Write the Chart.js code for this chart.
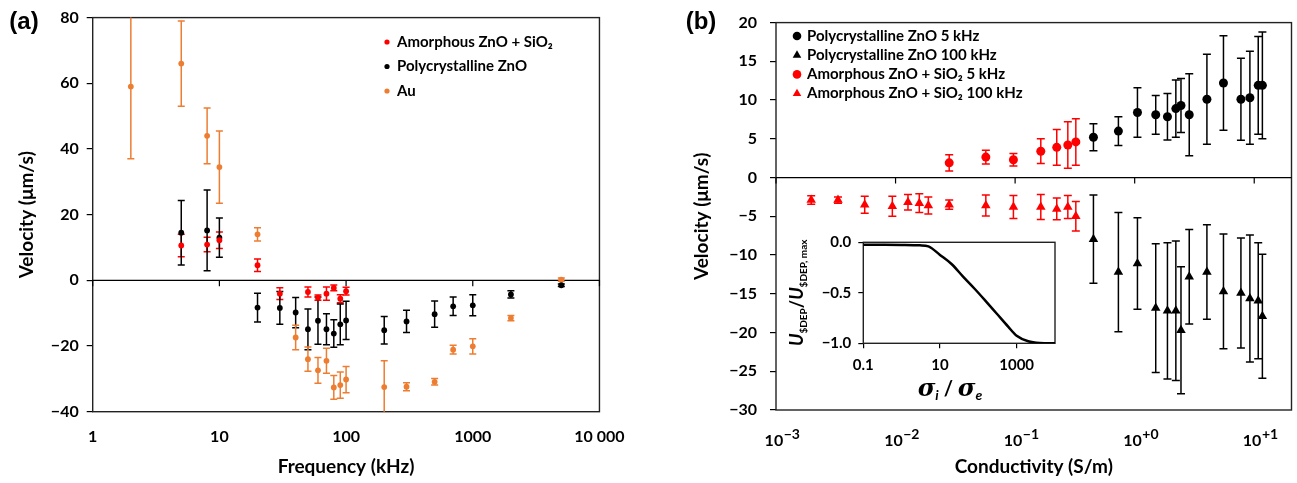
<!DOCTYPE html>
<html>
<head>
<meta charset="utf-8">
<script src="https://cdn.jsdelivr.net/npm/chart.js@4.4.0/dist/chart.umd.min.js"></script>
<style>
    body { margin: 0; background: #fff; }
    #wrap { position: relative; width: 1297px; height: 483px; }
    canvas { position: absolute; }
</style>
</head>
<body>
<div id="wrap">
    <canvas id="chart-a" width="640" height="483" style="left:0;top:0"></canvas>
    <canvas id="chart-b" width="657" height="483" style="left:640px;top:0"></canvas>
    <canvas id="chart-inset" width="290" height="180" style="left:780px;top:222px"></canvas>
</div>
<script>
// ---- panel (a): velocity vs frequency ----
const freqTicks = [1, 10, 100, 1000, 10000];
const freqTickLabels = ['1', '10', '100', '1000', '10 000'];

const freqAm = [5, 8, 10, 20, 30, 50, 60, 70, 80, 90, 100];
const velAm  = [10.6, 10.9, 12.2, 4.6, -4.05, -3.55, -5.3, -4.05, -2.3, -5.6, -3.3];
const errAm  = [3.4, 2.2, 2.5, 1.9, 1.8, 1.5, 0.8, 2.0, 0.9, 1.2, 1.2];

const freqPoly = [5, 8, 10, 20, 30, 40, 50, 60, 70, 80, 90, 100, 200, 300, 500, 700, 1000, 2000, 5000];
const velPoly  = [14.5, 15.2, 13, -8.3, -8.4, -9.8, -14.9, -12.3, -14.9, -16.2, -13.4, -12.2, -15.2, -12.5, -10.3, -7.9, -7.6, -4.3, -1.5];
const errPoly  = [9.8, 12.3, 6, 4.4, 5, 4.6, 6.2, 7.2, 4.7, 4.2, 6.2, 5.8, 4.2, 3.4, 4, 2.8, 3.2, 1.1, 0.4];

const freqAu = [2, 5, 8, 10, 20, 40, 50, 60, 70, 80, 90, 100, 200, 300, 500, 700, 1000, 2000, 5000];
const velAu  = [59, 66, 44, 34.5, 14, -17.4, -24, -27.4, -24.5, -32.6, -31.9, -30.2, -32.5, -32.4, -30.9, -21.1, -20.1, -11.5, 0.2];
const errAu  = [22, 13, 8.5, 11, 2, 3.7, 3.7, 3.9, 3.8, 3.6, 4, 4, 8, 1.2, 1, 1.3, 2.3, 0.8, 0.5];

// ---- panel (b): velocity vs conductivity ----
const condTicks = [0.001, 0.01, 0.1, 1, 10];
const condTickExps = ['\u22123', '\u22122', '\u22121', '+0', '+1'];

const condPoly = [0.452, 0.731, 1.055, 1.50, 1.88, 2.21, 2.44, 2.86, 4.02, 5.53, 7.74, 9.20, 10.8, 11.7];
const polyV5   = [5.2, 6.0, 8.4, 8.1, 7.85, 8.9, 9.3, 8.1, 10.1, 12.2, 10.1, 10.3, 11.9, 11.9];
const polyE5   = [1.75, 1.85, 3.2, 2.5, 3.0, 3.7, 3.5, 5.3, 5.8, 6.1, 5.3, 6.0, 6.3, 6.9];
const polyV100 = [-7.95, -12.2, -11.1, -16.85, -17.2, -17.2, -19.7, -12.8, -12.2, -14.7, -14.9, -15.6, -15.9, -17.9];
const polyE100 = [5.7, 7.7, 5.9, 8.3, 8.8, 9.0, 8.2, 6.1, 6.1, 7.4, 7.1, 8.2, 7.5, 8.0];

const condAm5 = [0.0281, 0.0569, 0.0968, 0.164, 0.223, 0.276, 0.322];
const amV5    = [1.9, 2.64, 2.3, 3.4, 3.9, 4.2, 4.6];
const amE5    = [1.05, 0.9, 0.8, 1.6, 2.3, 3.0, 3.0];

const condAm100 = [0.00197, 0.0033, 0.00552, 0.0094, 0.0127, 0.0158, 0.0188, 0.0281, 0.0569, 0.0968, 0.164, 0.223, 0.276, 0.322];
const amV100    = [-2.9, -2.9, -3.5, -3.7, -3.2, -3.3, -3.6, -3.5, -3.6, -3.8, -3.8, -4.05, -3.8, -5.0];
const amE100    = [0.55, 0.4, 1.1, 1.3, 1.0, 1.2, 1.1, 0.6, 1.35, 1.5, 1.6, 1.4, 1.5, 1.9];

// ---- inset: normalised sDEP velocity vs conductivity ratio ----
const ratioTicks = [0.1, 10, 1000];
const ratioX = [0.1, 0.3, 1, 3, 5, 10, 20, 40, 80, 150, 300, 600, 1000, 2000, 4000, 10000];
const ratioY = [-0.025, -0.025, -0.026, -0.03, -0.04, -0.125, -0.215, -0.34, -0.46, -0.575, -0.705, -0.835, -0.925, -0.98, -0.997, -1.0];

const RED = '#ff0000';
const BLACK = '#000000';
const ORANGE = '#ed7d31';
const FONT = 'Lato, "Open Sans", sans-serif';

Chart.defaults.font.family = FONT;
Chart.defaults.font.weight = 'bold';
Chart.defaults.color = '#000';

const minus = v => v < 0 ? '\u2212' + Math.abs(v) : String(v);
const pts = (xs, ys) => xs.map((x, i) => ({x: x, y: ys[i]}));

// error bars drawn through the chart scales
const errorBars = {
    id: 'errorBars',
    beforeDatasetsDraw(chart, args, opts) {
        const {ctx, chartArea: a, scales: {x, y}} = chart;
        ctx.save();
        ctx.beginPath();
        ctx.rect(a.left, a.top, a.width, a.height);
        ctx.clip();
        chart.data.datasets.forEach(ds => {
            if (!ds.errors) return;
            ctx.strokeStyle = ds.borderColor;
            ctx.lineWidth = opts.width;
            ds.data.forEach((p, j) => {
                let e = ds.errors[j];
                let px = x.getPixelForValue(p.x);
                let top = y.getPixelForValue(p.y + e);
                let bot = y.getPixelForValue(p.y - e);
                ctx.beginPath();
                ctx.moveTo(px, top); ctx.lineTo(px, bot);
                ctx.moveTo(px - opts.cap, top); ctx.lineTo(px + opts.cap, top);
                ctx.moveTo(px - opts.cap, bot); ctx.lineTo(px + opts.cap, bot);
                ctx.stroke();
            });
        });
        ctx.restore();
    }
};

// plot box, zero axis line with its ticks, panel letter
const frame = {
    id: 'frame',
    beforeDatasetsDraw(chart, args, opts) {
        const {ctx, chartArea: a, scales: {x, y}} = chart;
        ctx.save();
        ctx.strokeStyle = '#222';
        ctx.lineWidth = 1.4;
        ctx.strokeRect(a.left, a.top, a.width, a.height);
        if (opts.zeroLine) {
            let y0 = y.getPixelForValue(0);
            ctx.strokeStyle = '#000';
            ctx.lineWidth = 1.2;
            ctx.beginPath();
            ctx.moveTo(a.left, y0);
            ctx.lineTo(a.right, y0);
            x.ticks.forEach(t => {
                let px = x.getPixelForValue(t.value);
                ctx.moveTo(px, y0);
                ctx.lineTo(px, y0 + 6);
            });
            ctx.stroke();
        }
        if (opts.letter) {
            ctx.fillStyle = '#000';
            ctx.font = 'bold 24px "Liberation Sans", Arial, sans-serif';
            ctx.textAlign = 'center';
            ctx.textBaseline = 'middle';
            ctx.fillText(opts.letter, opts.letterX, opts.letterY);
        }
        ctx.restore();
    }
};

// "10" with a superscript exponent under each x tick
const powerLabels = {
    id: 'powerLabels',
    afterDraw(chart, args, opts) {
        if (!opts.exps) return;
        const {ctx, scales: {x}} = chart;
        ctx.save();
        ctx.fillStyle = '#000';
        ctx.textBaseline = 'middle';
        ctx.textAlign = 'left';
        const baseFont = 'bold 16px ' + FONT;
        const expFont = 'bold 14px ' + FONT;
        x.ticks.forEach((t, i) => {
            let exp = opts.exps[i];
            ctx.font = baseFont;
            let wb = ctx.measureText('10').width;
            ctx.font = expFont;
            let we = ctx.measureText(exp).width;
            let left = x.getPixelForValue(t.value) + opts.shift - (wb + we) / 2;
            ctx.font = baseFont;
            ctx.fillText('10', left, opts.y + 3);
            ctx.font = expFont;
            ctx.fillText(exp, left + wb + 0.5, opts.y - 4);
        });
        ctx.restore();
    }
};

// legend drawn inside the plot area
const innerLegend = {
    id: 'innerLegend',
    afterDraw(chart, args, opts) {
        if (!opts.display) return;
        const ctx = chart.ctx;
        ctx.save();
        ctx.font = 'bold 15px ' + FONT;
        ctx.textBaseline = 'middle';
        ctx.textAlign = 'left';
        chart.data.datasets.forEach((ds, i) => {
            let cy = opts.y + i * opts.spacing;
            let r = opts.radius;
            ctx.fillStyle = ds.backgroundColor;
            ctx.beginPath();
            if (ds.pointStyle === 'triangle') {
                r = opts.radius * 1.15;
                ctx.moveTo(opts.x, cy - r);
                ctx.lineTo(opts.x + r * 0.866, cy + r / 2);
                ctx.lineTo(opts.x - r * 0.866, cy + r / 2);
                ctx.closePath();
            } else {
                ctx.arc(opts.x, cy, r, 0, Math.PI * 2);
            }
            ctx.fill();
            ctx.fillStyle = '#000';
            ctx.fillText(ds.label, opts.x + opts.gap, cy);
        });
        ctx.restore();
    }
};

function makeDataset(label, xs, ys, errs, color, style, radius) {
    return {
        label: label,
        data: pts(xs, ys),
        errors: errs,
        backgroundColor: color,
        borderColor: color,
        pointStyle: style,
        pointRadius: radius,
        pointBorderWidth: 0,
        pointHoverRadius: radius,
        showLine: false
    };
}

function velocityAxis(min, max, step, width, padding, titlePad) {
    return {
        type: 'linear',
        min: min,
        max: max,
        afterFit: scale => { scale.width = width; },
        afterBuildTicks: scale => {
            let t = [];
            for (let v = min; v <= max + 1e-9; v += step) t.push({value: v});
            scale.ticks = t;
        },
        ticks: {
            font: {size: 16, weight: 'bold'},
            padding: padding,
            callback: v => minus(v)
        },
        grid: {display: true, drawOnChartArea: false, drawTicks: true, tickLength: 6, color: '#000', lineWidth: 1.2},
        border: {display: false},
        title: {
            display: true,
            text: 'Velocity (\u03BCm/s)',
            font: {size: 19, weight: 'bold'},
            padding: {top: titlePad, bottom: 0}
        }
    };
}

function logAxis(min, max, tickValues, tickLabels, height, padding, title) {
    return {
        type: 'logarithmic',
        min: min,
        max: max,
        afterFit: scale => { scale.height = height; },
        afterBuildTicks: scale => { scale.ticks = tickValues.map(v => ({value: v})); },
        ticks: {
            display: tickLabels !== null,
            font: {size: 16, weight: 'bold'},
            padding: padding,
            autoSkip: false,
            maxRotation: 0,
            callback: (v, i) => tickLabels ? tickLabels[i] : ''
        },
        grid: {display: false, drawTicks: false},
        border: {display: false},
        title: {
            display: true,
            text: title,
            font: {size: 19, weight: 'bold'},
            padding: {top: 0, bottom: 5}
        }
    };
}

// Panel (a)
new Chart(document.getElementById('chart-a'), {
    type: 'scatter',
    data: {
        datasets: [
            makeDataset('Amorphous ZnO + SiO\u2082', freqAm, velAm, errAm, RED, 'circle', 2.9),
            makeDataset('Polycrystalline ZnO', freqPoly, velPoly, errPoly, BLACK, 'circle', 2.9),
            makeDataset('Au', freqAu, velAu, errAu, ORANGE, 'circle', 2.9)
        ]
    },
    options: {
        responsive: false,
        animation: false,
        layout: {padding: {left: 0, right: 33, top: 17, bottom: 0}},
        scales: {
            x: logAxis(1, 10000, freqTicks, freqTickLabels, 71.3, 15.4, 'Frequency (kHz)'),
            y: velocityAxis(-40, 80, 20, 92.7, 8, 15.6)
        },
        plugins: {
            legend: {display: false},
            tooltip: {enabled: false},
            errorBars: {width: 1.5, cap: 3.5},
            frame: {zeroLine: true, letter: '(a)', letterX: 24, letterY: 22},
            innerLegend: {display: true, x: 387, y: 42, spacing: 24.5, gap: 10, radius: 2.6}
        }
    },
    plugins: [frame, errorBars, innerLegend]
});

// Panel (b)
new Chart(document.getElementById('chart-b'), {
    type: 'scatter',
    data: {
        datasets: [
            makeDataset('Polycrystalline ZnO 5 kHz', condPoly, polyV5, polyE5, BLACK, 'circle', 4.5),
            makeDataset('Polycrystalline ZnO 100 kHz', condPoly, polyV100, polyE100, BLACK, 'triangle', 5.5),
            makeDataset('Amorphous ZnO + SiO\u2082 5 kHz', condAm5, amV5, amE5, RED, 'circle', 4.5),
            makeDataset('Amorphous ZnO + SiO\u2082 100 kHz', condAm100, amV100, amE100, RED, 'triangle', 5.5)
        ]
    },
    options: {
        responsive: false,
        animation: false,
        layout: {padding: {left: 0, right: 4.7, top: 17, bottom: 0}},
        scales: {
            x: logAxis(0.001, 20.5, condTicks, null, 73, 17, 'Conductivity (S/m)'),
            y: velocityAxis(-30, 20, 5, 136, 13, 50.6)
        },
        plugins: {
            legend: {display: false},
            tooltip: {enabled: false},
            errorBars: {width: 1.5, cap: 4},
            frame: {zeroLine: true, letter: '(b)', letterX: 61, letterY: 22},
            powerLabels: {exps: condTickExps, y: 438, shift: 6},
            innerLegend: {display: true, x: 157, y: 36, spacing: 19.2, gap: 10, radius: 4.3}
        }
    },
    plugins: [frame, errorBars, powerLabels, innerLegend]
});

// Inset titles with subscripts
const insetTitles = {
    id: 'insetTitles',
    afterDraw(chart) {
        const ctx = chart.ctx;
        const drawRuns = (runs) => {
            let w = 0;
            runs.forEach(r => { ctx.font = r.font; r.w = ctx.measureText(r.t).width; w += r.w; });
            let x = -w / 2;
            runs.forEach(r => {
                ctx.font = r.font;
                ctx.fillText(r.t, x, r.dy);
                x += r.w;
            });
        };
        const big = 'italic bold 18px ' + FONT;
        const small = 'bold 10px ' + FONT;
        const a = chart.chartArea;
        ctx.save();
        ctx.fillStyle = '#000';
        ctx.textBaseline = 'alphabetic';
        ctx.textAlign = 'left';
        // y title, rotated
        ctx.translate(23, (a.top + a.bottom) / 2);
        ctx.rotate(-Math.PI / 2);
        drawRuns([
            {t: 'U', font: big, dy: 0},
            {t: '$DEP', font: small, dy: 4},
            {t: '/', font: 'bold 18px ' + FONT, dy: 0},
            {t: 'U', font: big, dy: 0},
            {t: '$DEP, max', font: small, dy: 4}
        ]);
        ctx.restore();
        ctx.save();
        ctx.fillStyle = '#000';
        ctx.textBaseline = 'alphabetic';
        ctx.translate(170, 174);
        const sig = 'italic bold 24px "DejaVu Serif", serif';
        const sub = 'italic bold 14px ' + FONT;
        drawRuns([
            {t: '\u03C3', font: sig, dy: 0},
            {t: 'i', font: sub, dy: 4},
            {t: ' / ', font: 'bold 20px ' + FONT, dy: 0},
            {t: '\u03C3', font: sig, dy: 0},
            {t: 'e', font: sub, dy: 4}
        ]);
        ctx.restore();
    }
};

new Chart(document.getElementById('chart-inset'), {
    type: 'line',
    data: {
        datasets: [{
            data: pts(ratioX, ratioY),
            borderColor: '#000',
            borderWidth: 2.5,
            pointRadius: 0,
            cubicInterpolationMode: 'monotone',
            fill: false
        }]
    },
    options: {
        responsive: false,
        animation: false,
        layout: {padding: {left: 0, right: 15, top: 20.3, bottom: 0}},
        scales: {
            x: {
                type: 'logarithmic',
                min: 0.1,
                max: 10000,
                afterFit: scale => { scale.height = 58.7; },
                afterBuildTicks: scale => { scale.ticks = ratioTicks.map(v => ({value: v})); },
                ticks: {font: {size: 15, weight: 'bold'}, padding: 8, autoSkip: false, maxRotation: 0,
                    callback: v => String(v)},
                grid: {display: true, drawOnChartArea: false, drawTicks: true, tickLength: 5, color: '#000', lineWidth: 1.2},
                border: {display: false}
            },
            y: {
                type: 'linear',
                min: -1,
                max: 0,
                afterFit: scale => { scale.width = 83.3; },
                afterBuildTicks: scale => { scale.ticks = [-1, -0.5, 0].map(v => ({value: v})); },
                ticks: {font: {size: 15, weight: 'bold'}, padding: 7,
                    callback: v => (v < 0 ? '\u2212' : '') + Math.abs(v).toFixed(1)},
                grid: {display: true, drawOnChartArea: false, drawTicks: true, tickLength: 5, color: '#000', lineWidth: 1.2},
                border: {display: false}
            }
        },
        plugins: {
            legend: {display: false},
            tooltip: {enabled: false},
            frame: {zeroLine: false}
        }
    },
    plugins: [frame, insetTitles]
});
</script>
</body>
</html>
